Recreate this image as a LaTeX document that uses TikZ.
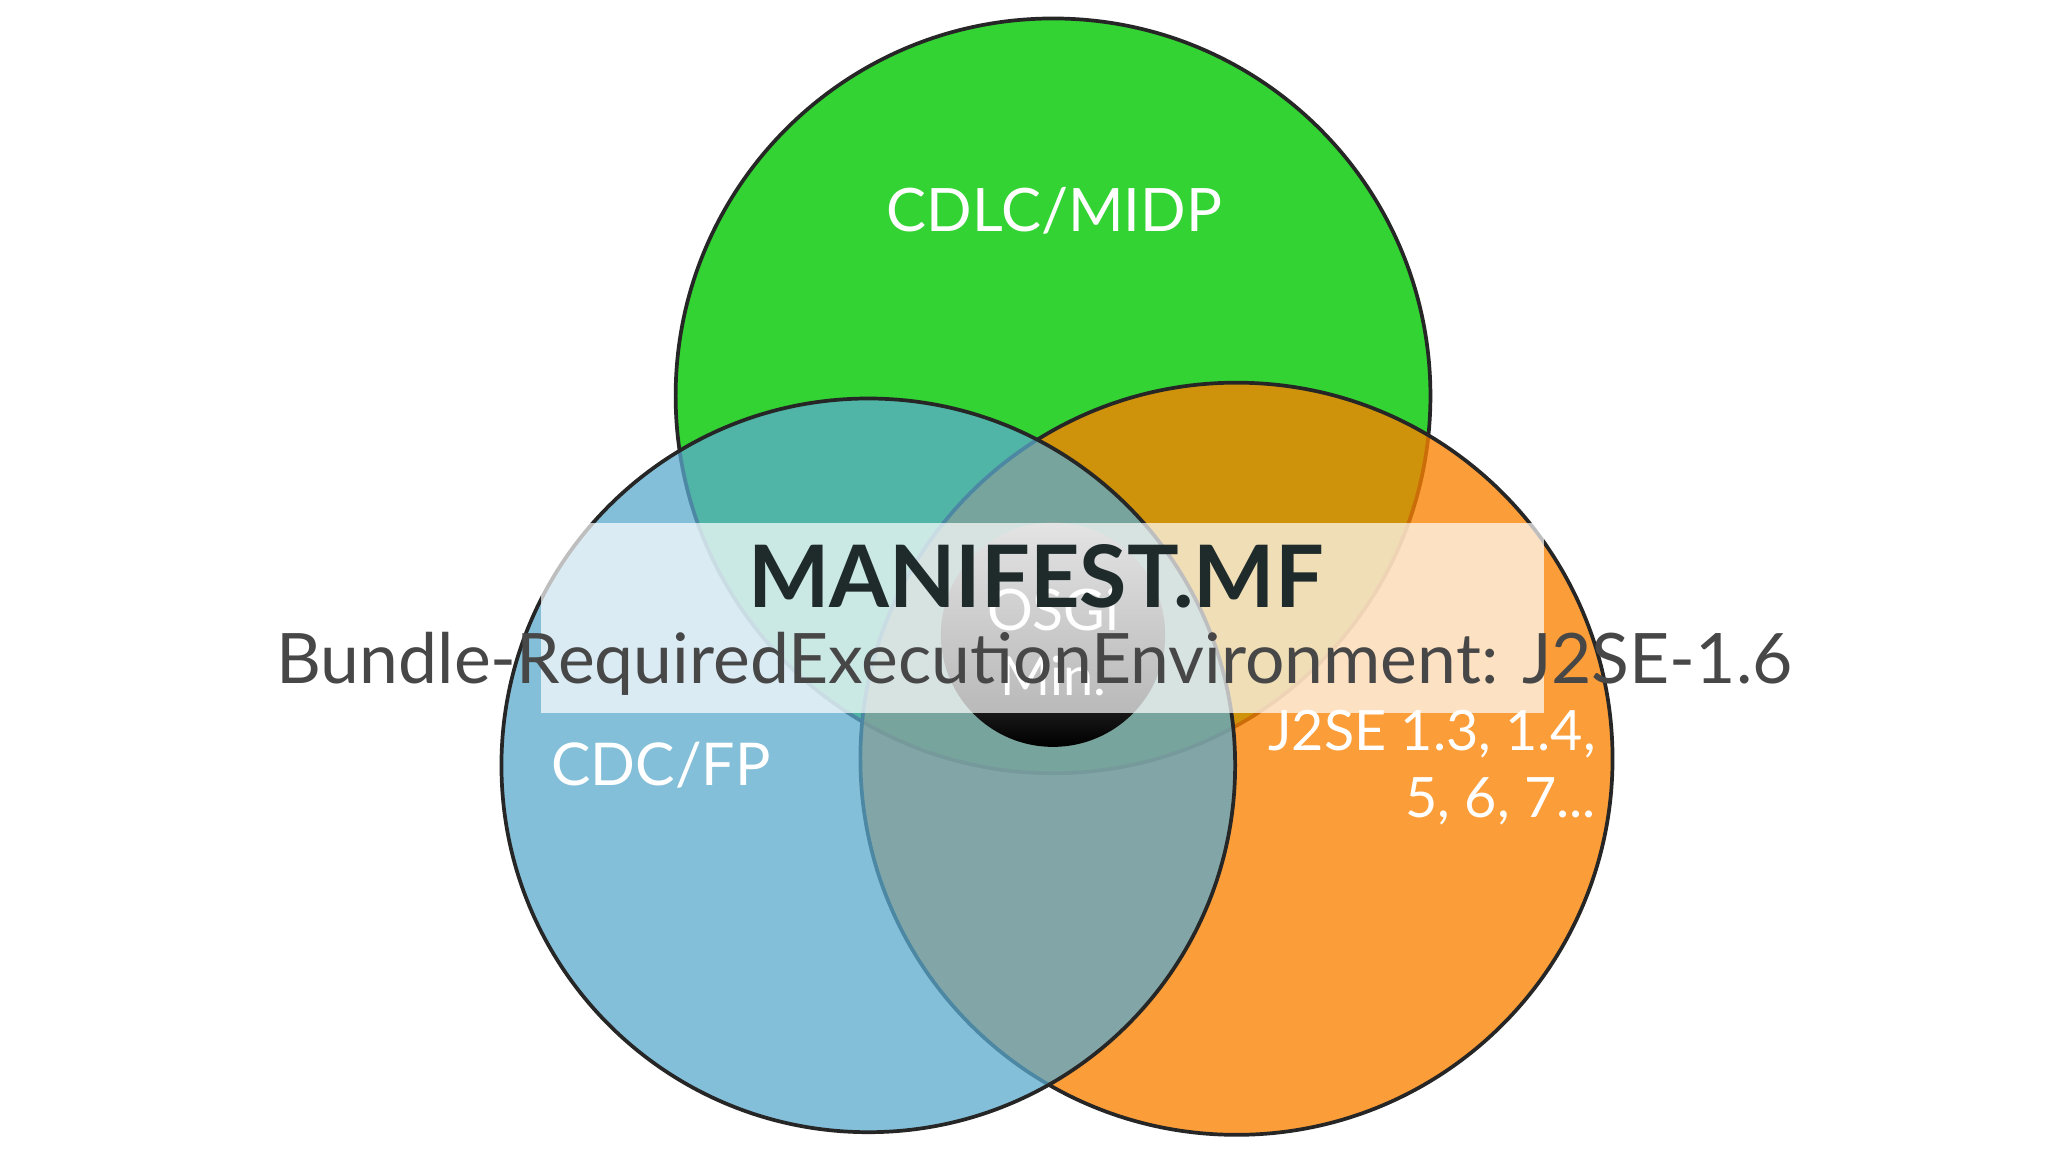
\documentclass[tikz,border=0pt]{standalone}
\usepackage{fontspec}
\setmainfont{Lato}
\begin{document}
\begin{tikzpicture}[x=0.01cm,y=-0.01cm,
  venn/.style={draw=black!85,line width=0.8pt,fill opacity=0.8},
  lbl/.style={text=white,inner sep=0pt}]
\useasboundingbox (0,0) rectangle (1552,880);
\fill[white] (0,0) rectangle (1552,880);
\path[venn,fill={rgb,255:red,0;green,200;blue,0}] (798,300) circle[radius=286];
\path[venn,fill={rgb,255:red,250;green,130;blue,0},fill opacity=0.78] (937,575) circle[radius=285];
\path[venn,fill={rgb,255:red,90;green,170;blue,205},fill opacity=0.75] (658,580) circle[radius=278];
\shade[top color=gray!70,bottom color=black,middle color=gray!60!black,shading angle=0] (798,481) circle[radius=85];
\node[lbl] (osgi) at (798,462) {\resizebox{1.0cm}{!}{OSGi}};
\node[lbl] (min) at (798,512) {\resizebox{0.8cm}{!}{Min.}};
\fill[white,fill opacity=0.7] (410,396) rectangle (1170,540);
\node (mf) at (785,437) {\resizebox{4.36cm}{!}{\bfseries\color[rgb]{0.12,0.17,0.17}MANIFEST.MF}};
\node (bre) at (784,503) {\resizebox{11.48cm}{!}{\color{black!72}Bundle-RequiredExecutionEnvironment: J2SE-1.6}};
\node[lbl] (cldc) at (799,160) {\resizebox{2.54cm}{!}{CDLC/MIDP}};
\node[lbl] (cdc) at (501,580) {\resizebox{1.66cm}{!}{CDC/FP}};
\node[lbl,anchor=east,align=right] (j2se) at (1210,584) {\resizebox{2.48cm}{!}{\begin{tabular}{@{}r@{}}J2SE 1.3, 1.4,\\5, 6, 7...\end{tabular}}};
\end{tikzpicture}
\end{document}
